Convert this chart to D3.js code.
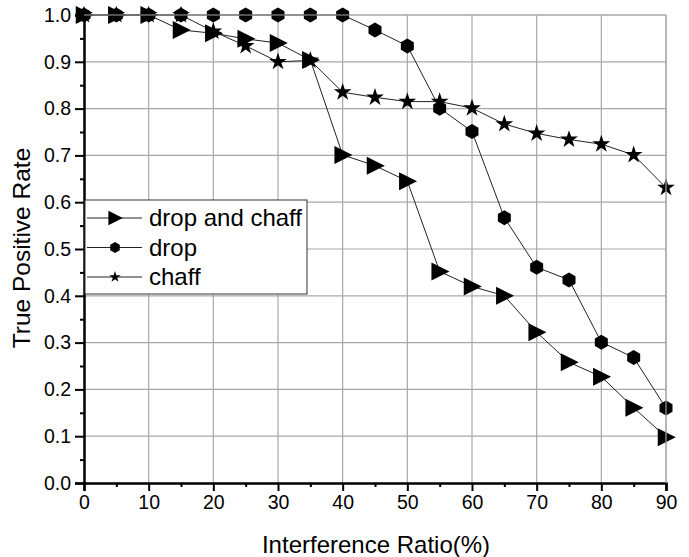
<!DOCTYPE html>
<html>
<head>
<meta charset="utf-8">
<script src="https://cdn.jsdelivr.net/npm/d3@7"></script>
<style>
  body { margin: 0; background: #fff; }
  #vis { width: 689px; height: 557px; }
  text { font-family: "Liberation Sans", Arial, sans-serif; }
</style>
</head>
<body>
<div id="vis"></div>
<script>
var ratios = [0, 5, 10, 15, 20, 25, 30, 35, 40, 45, 50, 55, 60, 65, 70, 75, 80, 85, 90];
var dropAndChaff = [1.0, 1.0, 1.0, 0.968, 0.961, 0.949, 0.940, 0.904, 0.701, 0.678, 0.645, 0.452, 0.420, 0.400, 0.322, 0.258, 0.227, 0.161, 0.098];
var drop = [1.0, 1.0, 1.0, 1.0, 1.0, 1.0, 1.0, 1.0, 1.0, 0.968, 0.934, 0.801, 0.751, 0.567, 0.461, 0.434, 0.301, 0.268, 0.160];
var chaff = [1.0, 1.0, 1.0, 1.0, 0.965, 0.934, 0.900, 0.903, 0.835, 0.824, 0.815, 0.815, 0.801, 0.767, 0.747, 0.734, 0.724, 0.701, 0.631];
var seriesNames = ['drop and chaff', 'drop', 'chaff'];
var xTicks = [0, 10, 20, 30, 40, 50, 60, 70, 80, 90];
var yTicks = [0, 0.1, 0.2, 0.3, 0.4, 0.5, 0.6, 0.7, 0.8, 0.9, 1.0];

var width = 689, height = 557;
var margin = { top: 15, bottom: 74, left: 84, right: 23 };

var svg = d3.select('#vis')
  .append('svg')
  .attr('width', width)
  .attr('height', height);

var w = width - margin.left - margin.right;
var h = height - margin.top - margin.bottom;

var g = svg.append('g')
  .attr('transform', 'translate(' + margin.left + ',' + margin.top + ')');

var x_scale = d3.scaleLinear().domain([0, 90]).range([0, w]);
var y_scale = d3.scaleLinear().domain([0, 1]).range([h, 0]);

// grid
g.append('g').selectAll('line')
  .data(xTicks.slice(1))
  .enter().append('line')
  .attr('x1', function(d) { return x_scale(d); })
  .attr('x2', function(d) { return x_scale(d); })
  .attr('y1', 0).attr('y2', h)
  .attr('stroke', '#a8a8a8').attr('stroke-width', 1.2);

g.append('g').selectAll('line')
  .data(yTicks.slice(1))
  .enter().append('line')
  .attr('x1', 0).attr('x2', w)
  .attr('y1', function(d) { return y_scale(d); })
  .attr('y2', function(d) { return y_scale(d); })
  .attr('stroke', '#a8a8a8').attr('stroke-width', 1.2);

// axes
var minorX = d3.range(5, 90, 10);
var minorY = d3.range(0.05, 1, 0.1);

var x_axis = d3.axisBottom(x_scale).tickValues(xTicks).tickFormat(d3.format('d')).tickSize(8).tickPadding(4);
var y_axis = d3.axisLeft(y_scale).tickValues(yTicks).tickFormat(d3.format('.1f')).tickSize(9).tickPadding(4);

var gx = g.append('g').attr('transform', 'translate(0,' + h + ')').call(x_axis);
var gy = g.append('g').call(y_axis);

g.append('g').attr('transform', 'translate(0,' + h + ')')
  .call(d3.axisBottom(x_scale).tickValues(minorX).tickSize(4).tickFormat(''))
  .select('.domain').remove();
g.append('g')
  .call(d3.axisLeft(y_scale).tickValues(minorY).tickSize(4).tickFormat(''))
  .select('.domain').remove();

g.selectAll('.tick line').attr('stroke', '#000').attr('stroke-width', 2);
[gx, gy].forEach(function(a) {
  a.select('.domain').attr('stroke', '#000').attr('stroke-width', 2.5);
  a.selectAll('text').attr('font-size', 19.5).attr('fill', '#000')
    .style('font-family', '"Liberation Sans", Arial, sans-serif');
});

svg.append('text')
  .attr('x', margin.left + w / 2 + 1)
  .attr('y', 553)
  .attr('text-anchor', 'middle')
  .attr('font-size', 24)
  .text('Interference Ratio(%)');

svg.append('text')
  .attr('transform', 'translate(30,' + (margin.top + h / 2 - 1) + ') rotate(-90)')
  .attr('text-anchor', 'middle')
  .attr('font-size', 24.5)
  .text('True Positive Rate');

// symbols
function triangle(s) {
  return 'M' + (-s * 0.55) + ',' + (-s * 0.6) + 'L' + (s * 0.65) + ',0L' + (-s * 0.55) + ',' + (s * 0.6) + 'Z';
}
function hexagon(s) {
  var pts = d3.range(6).map(function(i) {
    var a = Math.PI / 3 * i - Math.PI / 2;
    return [s / 2 * Math.cos(a), s / 2 * Math.sin(a)];
  });
  return 'M' + pts.join('L') + 'Z';
}
var starGen = function(s) { return d3.symbol(d3.symbolStar, s * s * 0.5)(); };
var shapes = [triangle, hexagon, starGen];
var sizes = [15, 15, 14];
var allSeries = [dropAndChaff, drop, chaff];

var line = d3.line()
  .x(function(d) { return x_scale(d[0]); })
  .y(function(d) { return y_scale(d[1]); });

allSeries.forEach(function(vals, i) {
  var pts = ratios.map(function(r, j) { return [r, vals[j]]; });
  g.append('path')
    .datum(pts)
    .attr('d', line)
    .attr('fill', 'none')
    .attr('stroke', '#222')
    .attr('stroke-width', 1);
});

allSeries.forEach(function(vals, i) {
  g.append('g').selectAll('path')
    .data(ratios.map(function(r, j) { return [r, vals[j]]; }))
    .enter().append('path')
    .attr('transform', function(d) { return 'translate(' + x_scale(d[0]) + ',' + y_scale(d[1]) + ')'; })
    .attr('d', shapes[i](sizes[i]))
    .attr('fill', '#000');
});

// top/right frame
g.append('line').attr('x1', 0).attr('x2', w).attr('y1', 0).attr('y2', 0)
  .attr('stroke', '#a8a8a8').attr('stroke-width', 1.2);
g.append('line').attr('x1', w).attr('x2', w).attr('y1', 0).attr('y2', h)
  .attr('stroke', '#a8a8a8').attr('stroke-width', 1.2);

// legend
var legend = svg.append('g').attr('transform', 'translate(' + (margin.left + 1) + ',200)');
legend.append('rect')
  .attr('width', 222).attr('height', 94)
  .attr('fill', '#fff').attr('stroke', '#333').attr('stroke-width', 1);

var legendSizes = [12, 11, 9];
seriesNames.forEach(function(name, i) {
  var yy = 18 + i * 29.5;
  legend.append('line')
    .attr('x1', 2).attr('x2', 57).attr('y1', yy).attr('y2', yy)
    .attr('stroke', '#222').attr('stroke-width', 1);
  legend.append('path')
    .attr('transform', 'translate(30,' + yy + ')')
    .attr('d', shapes[i](legendSizes[i]))
    .attr('fill', '#000');
  legend.append('text')
    .attr('x', 64).attr('y', yy + 8)
    .attr('font-size', 24)
    .text(name);
});
</script>
</body>
</html>
